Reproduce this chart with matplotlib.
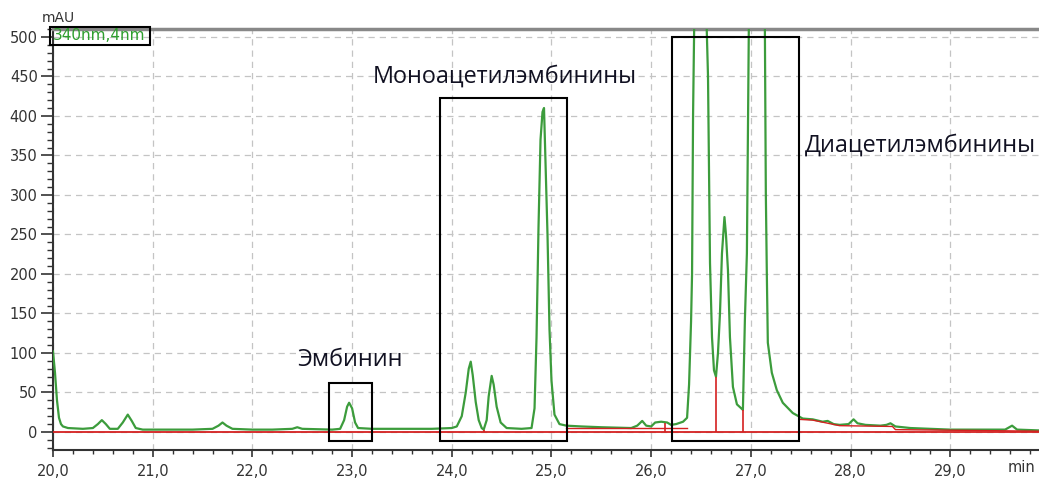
import matplotlib.pyplot as plt
from matplotlib.patches import Rectangle
from matplotlib.ticker import MultipleLocator, FuncFormatter

# chromatogram trace (min, mAU)
t = [20.00, 20.02, 20.04, 20.06, 20.08, 20.10, 20.15, 20.30, 20.40, 20.45,
     20.49, 20.53, 20.57, 20.65, 20.70, 20.75, 20.79, 20.83, 20.90, 21.00,
     21.20, 21.40, 21.60, 21.66, 21.70, 21.74, 21.80, 22.00, 22.20, 22.40,
     22.45, 22.50, 22.80, 22.88, 22.92, 22.95, 22.97, 23.00, 23.03, 23.06,
     23.20, 23.50, 23.80, 24.00, 24.05, 24.10, 24.14, 24.17, 24.19, 24.21,
     24.24, 24.27, 24.30, 24.32, 24.35, 24.37, 24.40, 24.42, 24.45, 24.49,
     24.55, 24.70, 24.80, 24.83, 24.85, 24.87, 24.89, 24.91, 24.925, 24.94,
     24.96, 24.98, 25.00, 25.03, 25.08, 25.15, 25.30, 25.50, 25.80, 25.86,
     25.91, 25.95, 26.00, 26.04, 26.10, 26.16, 26.20, 26.25, 26.32, 26.36,
     26.38, 26.40, 26.41, 26.42, 26.48, 26.555, 26.57, 26.59, 26.61, 26.63,
     26.65, 26.67, 26.69, 26.71, 26.735, 26.75, 26.77, 26.79, 26.82, 26.86,
     26.92, 26.94, 26.96, 26.98, 27.05, 27.14, 27.15, 27.16, 27.17, 27.21,
     27.26, 27.32, 27.42, 27.52, 27.62, 27.72, 27.77, 27.83, 27.89, 27.98,
     28.03, 28.07, 28.15, 28.30, 28.36, 28.40, 28.45, 28.60, 28.80, 29.00,
     29.30, 29.55, 29.62, 29.67, 29.89]
mau = [102, 75, 40, 18, 10, 7, 5, 4, 5, 10,
       15, 10, 4, 4, 12, 22, 14, 5, 3, 3,
       3, 3, 4, 8, 12, 8, 4, 3, 3, 4,
       6, 4, 3, 4, 15, 32, 37, 30, 12, 5,
       4, 4, 4, 5, 7, 20, 50, 80, 89, 72,
       38, 15, 5, 3, 15, 45, 71, 60, 32, 12,
       5, 4, 5, 30, 120, 260, 370, 405, 410, 340,
       250, 130, 65, 22, 10, 8, 7, 6, 5, 8,
       14, 8, 7, 12, 13, 12, 9, 10, 13, 18,
       60, 140, 200, 400, 1000, 520, 450, 214, 120, 78,
       70, 100, 150, 226, 272, 250, 205, 120, 57, 35,
       28, 142, 226, 520, 1100, 520, 302, 200, 113, 75,
       53, 37, 24, 17, 16, 13, 14, 10, 9, 10,
       16, 11, 9, 8, 9, 11, 7, 5, 4, 3,
       3, 3, 8, 3, 2]

# integration baselines and drop lines
base_t = [20.0, 29.89]
base_v = [0, 0]
base2_t = [25.15, 26.36]
base2_v = [5, 5]
base3_t = [27.48, 27.62, 27.89, 28.42, 28.45, 29.89]
base3_v = [16, 15, 8, 7, 3, 1]
drop_t = [24.32, 26.14, 26.65, 26.92]
drop_v = [3, 12, 70, 28]

# highlighted regions: (t0, t1, v0, v1, label, label_t, label_v)
boxes = [(22.77, 23.20, -11, 62, 'Эмбинин', 22.45, 91),
         (23.88, 25.155, -11, 423, 'Моноацетилэмбинины', 23.21, 450),
         (26.21, 27.48, -11, 500, 'Диацетилэмбинины', 27.54, 363)]

fig = plt.figure(figsize=(10.39, 4.79), dpi=100)
ax = fig.add_axes([53 / 1039, 29 / 479, 1 - 53 / 1039, 421 / 479])
ax.set_xlim(20, 29.89)
ax.set_ylim(-22.8, 510)

ax.plot(t, mau, color='#3c9c3c', lw=1.6, zorder=3)
ax.plot(base_t, base_v, color='#d42020', lw=1.3, zorder=4)
ax.plot(base2_t, base2_v, color='#d42020', lw=1.0, zorder=4)
ax.plot(base3_t, base3_v, color='#d42020', lw=1.0, zorder=4)
ax.vlines(drop_t, 0, drop_v, color='#d42020', lw=1.2, zorder=4)

for x0, x1, y0, y1, lab, lx, ly in boxes:
    ax.add_patch(Rectangle((x0, y0), x1 - x0, y1 - y0, fill=False,
                           ec='black', lw=1.5, zorder=5))
    ax.text(lx, ly, lab, fontsize=16.8, family='Open Sans', color='#111122',
            va='center', ha='left')

ax.xaxis.set_major_locator(MultipleLocator(1))
ax.xaxis.set_minor_locator(MultipleLocator(0.2))
ax.yaxis.set_major_locator(MultipleLocator(50))
ax.yaxis.set_minor_locator(MultipleLocator(10))
ax.xaxis.set_major_formatter(FuncFormatter(lambda v, p: f'{v:.1f}'.replace('.', ',')))
ax.tick_params(axis='y', which='major', length=9, width=1.2, pad=2,
               labelsize=10.5, labelcolor='#333333', color='#333333')
ax.tick_params(axis='y', which='minor', length=4, width=1.0, color='#333333')
ax.tick_params(axis='x', which='major', length=5, width=1.2, pad=5,
               labelsize=10.5, labelcolor='#333333', color='#333333')
ax.tick_params(axis='x', which='minor', length=3, width=1.0, color='#333333')

ax.grid(True, which='major', color='#c4c4c4', ls=(0, (5, 4)), lw=0.9)
ax.set_axisbelow(True)

for s in ['left', 'bottom']:
    ax.spines[s].set_color('#333333')
    ax.spines[s].set_linewidth(1.5)
ax.spines['top'].set_color('#888888')
ax.spines['top'].set_linewidth(2.5)
ax.spines['right'].set_visible(False)

fig.text(58 / 1039, 1 - 18 / 479, 'mAU', fontsize=10, color='#333333',
         ha='center', va='center')
fig.text(1008 / 1039, 1 - 467 / 479, 'min', fontsize=10.5, color='#333333',
         ha='left', va='center')
fig.add_artist(Rectangle((50 / 1039, 1 - 45 / 479), 100 / 1039, 18 / 479,
                         transform=fig.transFigure, fill=False, ec='black',
                         lw=1.5, zorder=6))
fig.text(53 / 1039, 1 - 36 / 479, '340nm,4nm', fontsize=11, color='#2e9e2e',
         ha='left', va='center', zorder=7)

fig.savefig('out.png', dpi=100)
